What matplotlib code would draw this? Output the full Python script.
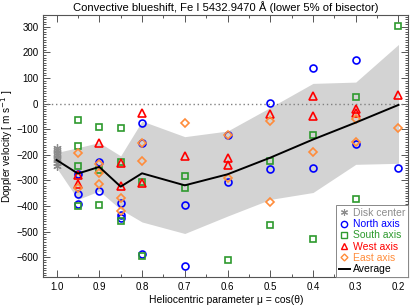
import numpy as np
import matplotlib
matplotlib.use("Agg")
import matplotlib.pyplot as plt
from matplotlib.ticker import MultipleLocator
from matplotlib.lines import Line2D

plt.rcParams['font.family'] = ['Liberation Sans', 'DejaVu Sans']

# ---- data ----
mu_grid = [1.0, 0.95, 0.9, 0.85, 0.8, 0.7, 0.6, 0.5, 0.4, 0.3, 0.2]
average = [-220, -273, -247, -324, -272, -319, -276, -211, -140, -74, -5]
band_upper = [-191, -172, -152, -204, -68, -129, -107, -15, 79, 84, 231]
band_lower = [-250, -374, -341, -413, -462, -507, -439, -374, -347, -237, -233]

disk_center_v = [-172, -182, -192, -202, -212, -222, -232, -242]

north_mu = [0.95, 0.95, 0.95, 0.9, 0.9, 0.85, 0.85, 0.85, 0.8, 0.8, 0.8, 0.7, 0.7,
            0.6, 0.6, 0.5, 0.5, 0.4, 0.4, 0.3, 0.3, 0.2]
north_v = [-273, -354, -393, -228, -343, -387, -436, -445, -74, -155, -588, -396, -634,
           -124, -306, 4, -254, 138, -250, 170, -156, -250]

south_mu = [0.95, 0.95, 0.95, 0.95, 0.9, 0.9, 0.9, 0.85, 0.85, 0.85, 0.8, 0.8, 0.7, 0.7,
            0.6, 0.5, 0.5, 0.4, 0.4, 0.3, 0.3, 0.2]
south_v = [-62, -167, -243, -400, -91, -258, -397, -94, -226, -458, -306, -595, -283, -328,
           -612, -225, -475, -124, -527, 27, -374, 303]

west_mu = [0.95, 0.95, 0.9, 0.85, 0.85, 0.8, 0.8, 0.7, 0.6, 0.6, 0.5, 0.4, 0.4, 0.3, 0.3, 0.2]
west_v = [-279, -312, -155, -233, -322, -35, -310, -204, -213, -240, -42, 30, -48, -22, -35, 32]

east_mu = [0.95, 0.95, 0.9, 0.9, 0.9, 0.85, 0.85, 0.8, 0.8, 0.7, 0.6, 0.6, 0.5, 0.5, 0.4,
           0.3, 0.3, 0.2]
east_v = [-194, -328, -237, -272, -315, -367, -419, -155, -224, -74, -124, -292, -68, -384,
          -189, -61, -150, -94]

c_gray = '#8c8c8c'
c_blue = '#0000ff'
c_green = '#2e9a2e'
c_red = '#ff0000'
c_orange = '#ff8c3a'

fig = plt.figure(figsize=(4.15, 3.06), dpi=100)
ax = fig.add_axes([0.1043, 0.0938, 0.8796, 0.8572])

ax.fill_between(mu_grid, band_lower, band_upper, color='#d3d3d3', lw=0, zorder=1)
ax.axhline(0, color='#808080', ls=(0, (1, 2)), lw=1.0, zorder=2)

ms = 5
mew = 1.2
ax.plot([1.0] * len(disk_center_v), disk_center_v, ls='none', marker=(6, 2, 0),
        ms=6, mew=0.9, color=c_gray, zorder=3)
ax.plot(north_mu, north_v, ls='none', marker='o', ms=ms, mew=mew, mfc='none', mec=c_blue, zorder=4)
ax.plot(south_mu, south_v, ls='none', marker='s', ms=ms, mew=mew, mfc='none', mec=c_green, zorder=4)
ax.plot(west_mu, west_v, ls='none', marker='^', ms=ms + 0.5, mew=mew, mfc='none', mec=c_red, zorder=4)
ax.plot(east_mu, east_v, ls='none', marker='D', ms=ms - 1, mew=mew, mfc='none', mec=c_orange, zorder=4)
ax.plot(mu_grid, average, color='black', lw=1.4, zorder=5)

ax.set_xlim(1.031, 0.177)
ax.set_ylim(-678, 346)
ax.xaxis.set_major_locator(MultipleLocator(0.1))
ax.xaxis.set_minor_locator(MultipleLocator(0.05))
ax.yaxis.set_major_locator(MultipleLocator(100))
ax.yaxis.set_minor_locator(MultipleLocator(10))
ax.tick_params(which='both', direction='in', top=True, right=True, colors='#555555',
               labelcolor='black', labelsize=7, width=0.7)
ax.tick_params(which='major', length=5)
ax.tick_params(which='minor', length=2.5)
ax.xaxis.set_major_formatter(plt.FuncFormatter(lambda v, p: f"{v:.1f}"))
ax.yaxis.set_major_formatter(plt.FuncFormatter(lambda v, p: f"{int(round(v))}".replace('-', '\u2212')))
for s in ax.spines.values():
    s.set_color('#555555')
    s.set_linewidth(0.8)

ax.set_title('Convective blueshift, Fe I 5432.9470 \u00c5 (lower 5% of bisector)', fontsize=8.1, pad=3)
ax.set_xlabel('Heliocentric parameter \u03bc = cos(\u03b8)', fontsize=7.5, labelpad=2)
ax.set_ylabel('Doppler velocity [ m s$^{-1}$ ]', fontsize=7.2, labelpad=1)

handles = [
    Line2D([], [], ls='none', marker=(6, 2, 0), ms=5, mew=0.8, color=c_gray),
    Line2D([], [], ls='none', marker='o', ms=4.5, mew=1, mfc='none', mec=c_blue),
    Line2D([], [], ls='none', marker='s', ms=4.5, mew=1, mfc='none', mec=c_green),
    Line2D([], [], ls='none', marker='^', ms=4.5, mew=1, mfc='none', mec=c_red),
    Line2D([], [], ls='none', marker='D', ms=3.5, mew=1, mfc='none', mec=c_orange),
    Line2D([], [], color='black', lw=1.4),
]
labels = ['Disk center', 'North axis', 'South axis', 'West axis', 'East axis', 'Average']
leg = ax.legend(handles, labels, loc='lower right', fontsize=7.5, frameon=True, fancybox=False,
                borderaxespad=0, handlelength=1.0, handletextpad=0.3, labelspacing=0.12,
                borderpad=0.3, framealpha=1)
leg.get_frame().set_edgecolor('#888888')
leg.get_frame().set_linewidth(0.7)
for t, c in zip(leg.get_texts(), [c_gray, c_blue, c_green, c_red, c_orange, 'black']):
    t.set_color(c)
leg.set_zorder(10)

fig.savefig('out.png', dpi=100)
